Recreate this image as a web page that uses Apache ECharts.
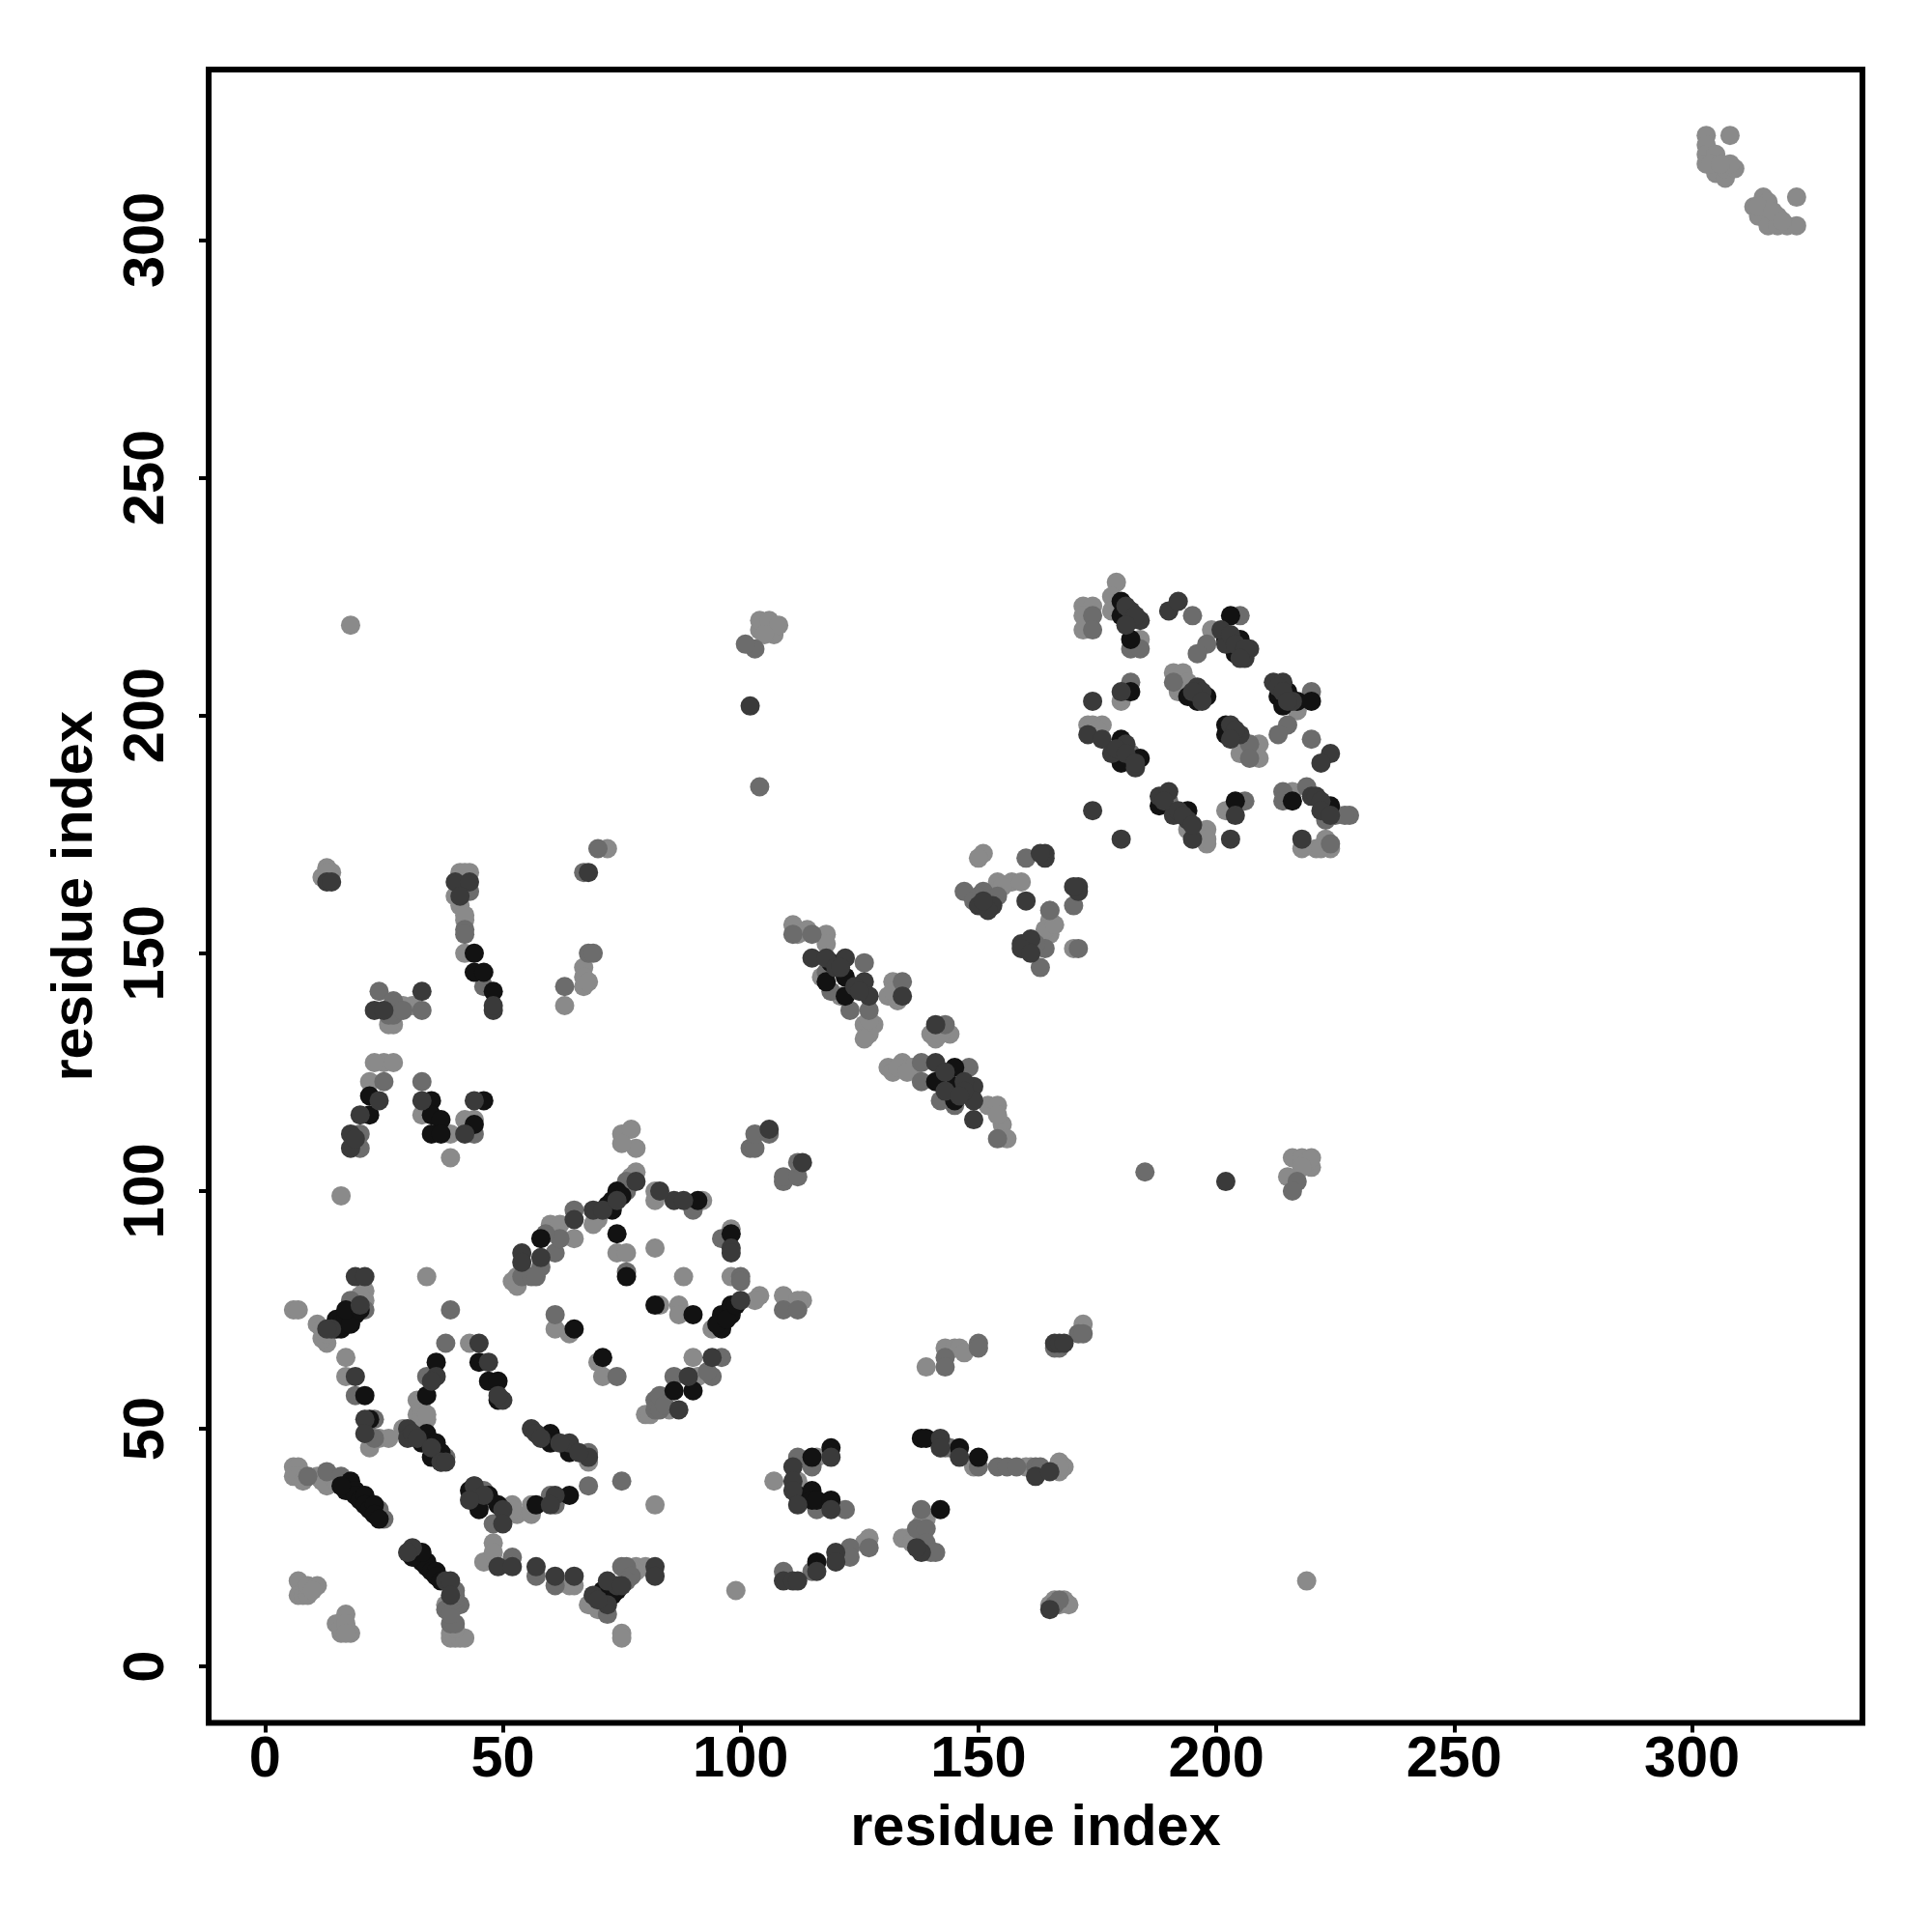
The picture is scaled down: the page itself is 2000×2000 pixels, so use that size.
<!DOCTYPE html>
<html><head><meta charset="utf-8">
<script src="https://cdn.jsdelivr.net/npm/echarts@6/dist/echarts.min.js"></script>
<style>html,body{margin:0;padding:0;background:#fff}#c{width:2000px;height:2000px}</style></head>
<body><div id="c"></div>
<script>
const tickValues=[0,50,100,150,200,250,300];
const axisTitle="residue index";

const lightPoints=[
[6,42],[7,42],[6,40],[7,40],[8,39],[11,40],[13,38],[12,39],[14,40],[15,39],
[7,18],[8,16],[7,15],[8,15],[9,15],[9,17],[11,17],[10,16],[17,11],[15,9],[16,7],[18,7],[16,8],[17,9],[17,7],
[38,13],[39,7],[39,6],[40,6],[41,6],[42,6],[40,8],[46,22],[48,26],[48,24],[64,17],[65,17],[68,13],[70,12],[71,12],[75,7],[75,6],[78,21],[80,21],[78,20],
[52,34],[53,32],[56,34],[56,32],[68,43],[82,34],[52,33],
[29,50],[34,52],[32,53],[32,56],[33,54],[33,52],[34,53],[43,68],[17,65],[17,61],[22,46],[24,48],[26,48],[16,99],[34,82],
[6,75],[7,75],[11,72],[12,71],[13,68],[12,69],[13,70],[21,79],[21,77],[19,77],[20,78],
[53,82],[52,81],[53,80],[60,93],[62,93],[65,90],[70,94],[69,93],[78,104],[77,103],[74,87],[76,87],[82,88],[82,100],[82,98],[75,112],[77,113],[78,109],[75,110],
[61,71],[64,70],[83,76],[87,76],[87,74],[70,64],[71,61],[80,53],[81,53],[82,54],
[92,98],[98,92],[98,82],[104,78],[103,77],[94,71],[109,78],[113,77],[112,77],[90,65],[91,61],[88,82],[85,54],
[116,44],[107,39],[112,39],[127,27],[126,26],[99,16],[134,27],[135,27],[136,26],[139,31],[138,30],[142,46],[149,42],[160,42],[161,42],[167,43],[167,41],[168,42],[167,42],
[143,67],[139,63],[145,67],[146,67],[147,66],[172,72],[165,13],[166,14],[168,14],[169,13],[167,13],
[18,219],[12,166],[13,168],[14,167],[13,167],[41,167],[43,167],[42,167],[40,162],[41,160],[42,157],[42,158],[42,150],[72,172],[67,147],[67,145],[67,143],[68,144],[63,139],
[25,127],[27,127],[23,127],[22,123],[27,135],[26,135],[29,139],[31,139],[33,116],[39,112],[39,107],[42,115],[44,115],[43,113],
[104,218],[104,220],[106,220],[107,217],[108,219],[105,217],
[111,156],[114,155],[118,154],[118,152],[112,154],[117,145],[121,141],[128,135],[126,135],[127,133],[126,132],[127,136],[132,144],[131,141],[133,140],[132,142],[140,133],[141,132],[144,133],[142,133],
[131,126],[134,127],[136,126],[132,125],[133,126],[135,125],[143,123],[152,118],[154,118],[155,114],[154,116],[156,111],
[179,228],[178,225],[178,222],[172,223],[174,223],[172,221],[172,218],[184,216],[199,218],[191,209],[193,209],[194,207],[192,205],[180,203],[217,201],
[173,198],[176,198],[174,198],[175,197],[205,192],[209,194],[209,191],[216,184],[202,180],[194,176],[198,176],[198,173],[197,175],[198,174],
[218,172],[221,172],[223,174],[224,172],[222,172],
[151,171],[150,170],[154,165],[157,165],[159,165],[170,151],[153,163],[155,164],
[165,159],[165,157],[165,154],[164,155],[166,156],
[216,107],[218,107],[220,105],[219,106],[220,107],[218,105],[215,103],[219,18],
[303,322],[308,322],[303,320],[303,318],[303,316],[305,318],[305,314],[307,313],[307,315],[309,315],[308,316],[304,316],[306,316],
[315,309],[313,307],[314,305],[316,308],[318,305],[316,303],[318,303],[320,303],[322,303],[322,309],[314,307],[317,306],[319,304]
];

const midPoints=[
[9,40],[13,41],[16,40],[25,31],[24,33],[38,12],[40,16],[41,13],[39,9],[40,9],[39,11],[40,14],[40,15],
[52,23],[57,19],[61,17],[70,15],[72,11],[75,21],[76,21],[77,19],[76,18],[71,14],
[48,30],[60,36],[61,34],[68,45],[68,38],[75,39],[46,37],[44,38],[46,35],
[38,44],[37,45],[36,46],[34,61],[38,68],[19,57],[23,52],[23,48],[39,75],[21,75],[18,77],
[54,82],[56,82],[58,84],[57,82],[61,87],[62,90],[59,91],[65,96],[76,100],[76,102],[76,83],[61,74],[74,61],
[82,56],[82,54],[83,54],[83,57],[84,55],[86,61],
[102,109],[103,109],[103,112],[106,112],[109,102],[109,103],[112,103],[112,106],[185,104],[90,96],[96,90],[100,82],[100,81],[109,75],[112,75],[96,65],[94,61],[93,62],
[112,44],[115,42],[116,33],[122,33],[109,20],[115,20],[123,25],[123,23],[127,25],[138,33],[137,29],[139,29],[139,26],[141,24],[140,24],
[143,46],[144,46],[150,42],[154,42],[156,42],[158,42],[162,42],[163,42],[166,67],[167,67],[171,70],[172,70],[143,65],[143,63],[150,68],[150,67],
[166,13],[167,14],[43,163],[42,155],[42,154],[70,172],[67,167],[68,150],[69,150],[63,143],[46,143],
[24,142],[27,140],[27,137],[26,137],[25,123],[20,112],[20,109],[33,123],[44,112],[29,138],[33,138],
[103,214],[101,215],[104,185],[126,148],[118,146],[119,142],[123,138],[127,138],[111,154],[115,154],[143,135],[134,144],
[138,127],[148,126],[138,123],[142,119],[145,118],[154,111],
[174,221],[174,218],[182,214],[184,214],[195,221],[198,215],[196,213],[205,221],[191,207],[182,207],[220,205],[215,198],[213,196],[220,195],
[182,192],[207,194],[207,191],[206,182],[190,182],[214,184],[214,182],[219,185],[225,179],[228,179],[227,179],[224,173],[223,178],
[160,170],[147,163],[151,163],[150,162],[154,162],[149,161],[170,160],[165,159],[164,151],[163,147],[162,152],[171,151],[217,102],[216,100]
];

const darkPoints=[
[31,25],[30,24],[38,18],[39,18],[39,15],[49,21],[52,21],[57,21],[61,19],[65,19],[82,21],[82,19],[69,15],[72,13],[74,17],[72,18],[70,14],[75,17],
[44,38],[46,36],[50,33],[50,30],[43,35],[61,36],[60,34],[64,47],[56,50],[57,49],[68,44],[58,48],[62,47],[66,45],
[30,50],[30,48],[31,49],[32,48],[35,46],[37,43],[38,43],
[36,61],[35,60],[45,68],[47,64],[50,56],[49,57],[19,61],[21,52],[21,49],
[19,82],[21,82],[14,71],[13,71],[20,76],[54,87],[54,85],[58,86],[65,94],[69,96],[71,96],[74,98],[78,102],[86,98],[88,98],[83,100],
[89,61],[87,54],[98,88],[98,87],[100,77],[94,65],[106,113],[113,106],
[111,42],[119,44],[111,39],[111,37],[112,34],[119,33],[109,18],[111,18],[112,18],[120,24],[120,22],[116,20],[138,24],[137,25],[142,48],[142,46],[146,44],[162,40],[165,41],
[166,68],[167,68],[168,68],[165,12],
[13,165],[14,165],[40,165],[43,165],[41,162],[48,138],[48,139],[68,167],
[33,142],[23,138],[25,138],[24,119],[20,116],[18,112],[18,109],[33,119],[42,112],[44,119],[19,111],
[102,202],[115,149],[118,149],[122,149],[126,144],[127,141],[134,141],[141,135],[141,127],[149,122],[149,119],[149,115],
[120,147],[121,147],[124,143],[125,142],[143,125],[143,121],[147,123],[147,121],[146,120],
[182,222],[184,220],[190,222],[192,224],[202,215],[207,214],[206,212],[201,218],[196,206],[174,203],[180,205],[212,207],[214,207],
[181,223],[183,221],[181,219],[203,217],[204,215],[206,214],[205,212],[197,205],[195,205],[197,203],[213,206],[214,205],[216,203],[215,203],
[224,192],[222,190],[173,196],[176,195],[178,192],[183,189],[205,196],[188,183],[190,184],[191,179],[194,178],[195,174],[204,179],[203,174],[174,180],[180,174],[220,183],[218,174],
[181,194],[179,193],[181,192],[183,190],[189,182],[192,180],[193,179],[195,177],[203,198],[204,197],[203,195],[221,183],[222,182],[222,180],[224,179],
[164,171],[164,170],[163,171],[153,160],[152,159],[150,160],[171,164],[171,163],[170,164],[159,152],[161,153],[159,151],[161,150],[202,102],[160,161],[151,161]
];

const blackPoints=[
[18,39],[17,37],[19,37],[19,36],[20,35],[21,36],[21,34],[22,33],[23,34],[23,32],[24,31],[16,38],
[32,24],[33,22],[32,23],[34,22],[34,21],[35,20],[36,20],[36,19],[37,18],[31,23],[33,24],
[71,16],[72,16],[73,15],[74,16],[71,14],[73,17],[43,37],[45,33],[47,36],[49,34],[57,34],[64,36],
[60,49],[60,47],[64,45],[34,49],[33,47],[35,47],[35,44],[37,45],[37,43],[36,47],[34,57],[36,64],
[45,64],[47,60],[49,60],[49,56],[21,57],[22,52],
[15,71],[16,71],[15,73],[16,72],[17,73],[18,74],[19,74],[18,72],[17,75],[20,75],
[58,90],[72,97],[73,96],[74,100],[73,98],[75,99],[74,91],[76,82],[65,71],[82,76],[71,65],[86,58],[90,58],[90,74],
[91,98],[98,91],[96,71],[96,74],[98,74],[98,76],[95,72],[97,73],[99,76],
[115,44],[119,46],[112,36],[115,37],[115,35],[116,35],[119,35],[116,22],[138,48],[139,48],[146,46],[150,44],[142,33],
[44,150],[44,146],[46,146],[48,142],[22,120],[22,116],[35,119],[35,116],[37,115],[35,112],[37,112],[46,119],[44,114],
[118,144],[122,145],[122,141],[119,148],[145,126],[141,123],[145,122],[145,119],
[180,224],[180,221],[182,220],[182,216],[203,221],[202,216],[205,216],[204,213],[194,204],[198,204],[196,203],[182,205],[213,204],[215,205],[214,202],[217,203],[220,203],
[180,195],[180,190],[184,191],[202,198],[202,196],[188,181],[194,180],[204,182],[216,182],[223,181],[224,181]
];

const chart=echarts.init(document.getElementById('c'),null,{renderer:'canvas'});
const font="'Liberation Sans',Arial,sans-serif";
const makeAxis=(labelMargin,nameGap,rotate)=>({
  type:'value',min:-11.84,max:335.84,splitLine:{show:false},
  axisLine:{show:false,onZero:false},
  axisTick:{show:true,length:10,inside:false,lineStyle:{color:'#000',width:4},customValues:tickValues},
  axisLabel:{show:true,margin:labelMargin,rotate,fontFamily:font,fontWeight:'bold',fontSize:59.5,color:'#000',customValues:tickValues,showMinLabel:true,showMaxLabel:true},
  name:axisTitle,nameLocation:'middle',nameGap,
  nameTextStyle:{fontFamily:font,fontWeight:'bold',fontSize:59.5,color:'#000'}
});
const makeSeries=(data,color)=>({type:'scatter',data,symbol:'circle',symbolSize:20,itemStyle:{color,opacity:1},silent:true,clip:false});
chart.setOption({
  animation:false,backgroundColor:'#fff',
  grid:{left:216,top:72,width:1712,height:1711.5,show:true,borderWidth:6,borderColor:'#000',backgroundColor:'transparent'},
  xAxis:makeAxis(9,80,0),
  yAxis:makeAxis(33,107,90),
  series:[makeSeries(lightPoints,'#8a8a8a'),makeSeries(midPoints,'#6c6c6c'),makeSeries(blackPoints,'#121212'),makeSeries(darkPoints,'#3a3a3a')]
});
</script></body></html>
